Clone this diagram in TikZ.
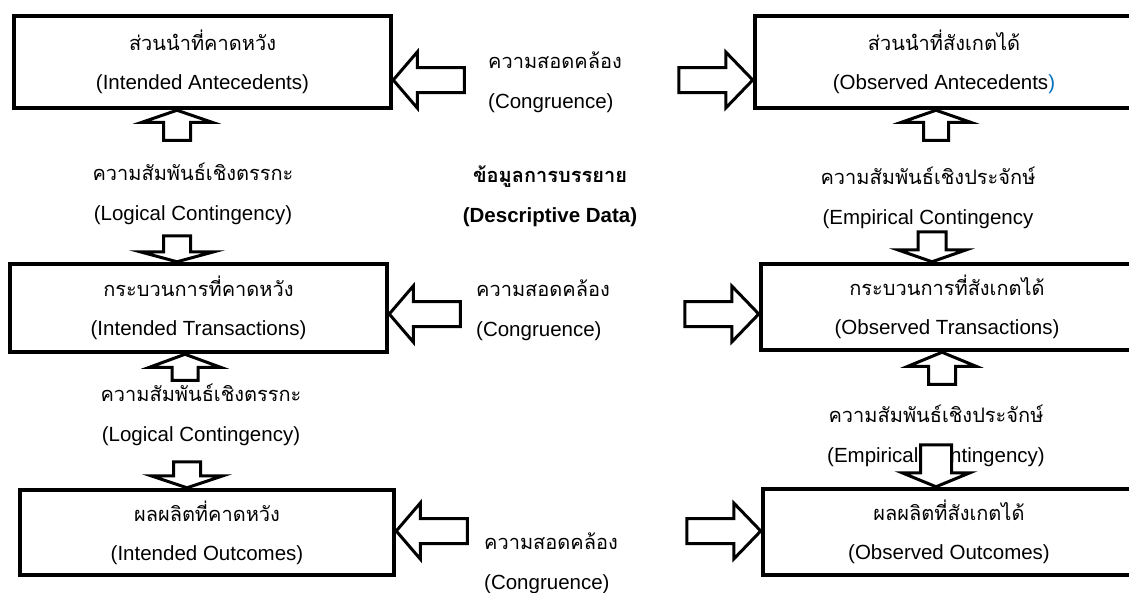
\documentclass[tikz,border=0pt]{standalone}
\usepackage{fontspec}
\setmainfont{Liberation Sans}
\newfontfamily\thaifont[Script=Thai]{Loma}
\newcommand{\thai}[1]{{\thaifont\fontsize{20}{39}\selectfont #1}}
\definecolor{wordblue}{RGB}{0,112,192}
\newcommand{\blockarrow}[6]{%
  \draw[arrowline, shift={(#1)}, rotate=#2] (0,0) -- (-#4,#5) -- (-#4,#6) -- (-#3,#6)
    -- (-#3,-#6) -- (-#4,-#6) -- (-#4,-#5) -- cycle;}

\begin{document}
\begin{tikzpicture}[x=1pt,y=-1pt]
\tikzset{
	box/.style={draw, line width=4.5pt, align=center, inner sep=0pt, font=\fontsize{20.5}{39}\selectfont},
	lbl/.style={align=center, inner sep=0pt, font=\fontsize{20.5}{40}\selectfont},
	arrowline/.style={draw, fill=white, line width=3pt}
}
\useasboundingbox (0,0) rectangle (1129,592);

\node[box, minimum width=377pt, minimum height=92pt] (ia) at (202.5,62) {\thai{ส่วนนำที่คาดหวัง}\\(Intended Antecedents)};
\node[box, minimum width=377pt, minimum height=88pt] (it) at (198.5,308) {\thai{กระบวนการที่คาดหวัง}\\(Intended Transactions)};
\node[box, minimum width=374pt, minimum height=85pt] (io) at (207,532.5) {\thai{ผลผลิตที่คาดหวัง}\\(Intended Outcomes)};
\node[box, minimum width=378pt, minimum height=92pt] (oa) at (944,62) {\thai{ส่วนนำที่สังเกตได้}\\(Observed Antecedents\textcolor{wordblue}{)}};
\node[box, minimum width=372pt, minimum height=86pt] (ot) at (947,307) {\thai{กระบวนการที่สังเกตได้}\\(Observed Transactions)};
\node[box, minimum width=372pt, minimum height=86pt] (oo) at (949,532) {\thai{ผลผลิตที่สังเกตได้}\\(Observed Outcomes)};

\node[lbl] (lc1) at (193,194) {\thai{ความสัมพันธ์เชิงตรรกะ}\\(Logical Contingency)};
\node[lbl] (lc2) at (201,415) {\thai{ความสัมพันธ์เชิงตรรกะ}\\(Logical Contingency)};
\node[lbl] (ec1) at (928,198) {\thai{ความสัมพันธ์เชิงประจักษ์}\\(Empirical Contingency};
\node[lbl] (ec2) at (936,436) {\thai{ความสัมพันธ์เชิงประจักษ์}\\(Empirical Contingency)};
\node[lbl, font=\fontsize{20.5}{40}\selectfont\bfseries] (dd) at (550,196) {\thai{\bfseries ข้อมูลการบรรยาย}\\(Descriptive Data)};
\node[lbl, align=left, anchor=west] (cg1) at (488,82) {\thai{ความสอดคล้อง}\\(Congruence)};
\node[lbl, align=left, anchor=west] (cg2) at (476,310) {\thai{ความสอดคล้อง}\\(Congruence)};
\node[lbl, align=left, anchor=west] (cg3) at (484,563) {\thai{ความสอดคล้อง}\\(Congruence)};

\blockarrow{ia.east |- 0,80}{180}{71}{24}{28}{12.5}
\blockarrow{oa.west |- 0,80}{0}{74}{27}{28}{12.5}
\blockarrow{it.east |- 0,314}{180}{71}{24}{28}{12.5}
\blockarrow{ot.west |- 0,314}{0}{74}{27}{28}{12.5}
\blockarrow{io.east |- 0,531}{180}{71}{24}{28}{12.5}
\blockarrow{oo.west |- 0,531}{0}{74}{27}{28}{12.5}

\blockarrow{177,0 |- ia.south}{90}{30}{12}{35}{13.5}
\blockarrow{177,0 |- it.north}{-90}{26}{10}{37}{13.5}
\blockarrow{185,0 |- it.south}{90}{26}{13}{35.5}{13}
\blockarrow{187,0 |- io.north}{-90}{26}{12}{36}{13.5}
\blockarrow{936,0 |- oa.south}{90}{30}{12}{34.5}{12.5}
\blockarrow{932,0 |- ot.north}{-90}{30}{12}{34.5}{14}
\blockarrow{942,0 |- ot.south}{90}{32}{14}{34}{13.5}
\blockarrow{936,0 |- oo.north}{-90}{42}{14}{34}{15.5}
\end{tikzpicture}
\end{document}
